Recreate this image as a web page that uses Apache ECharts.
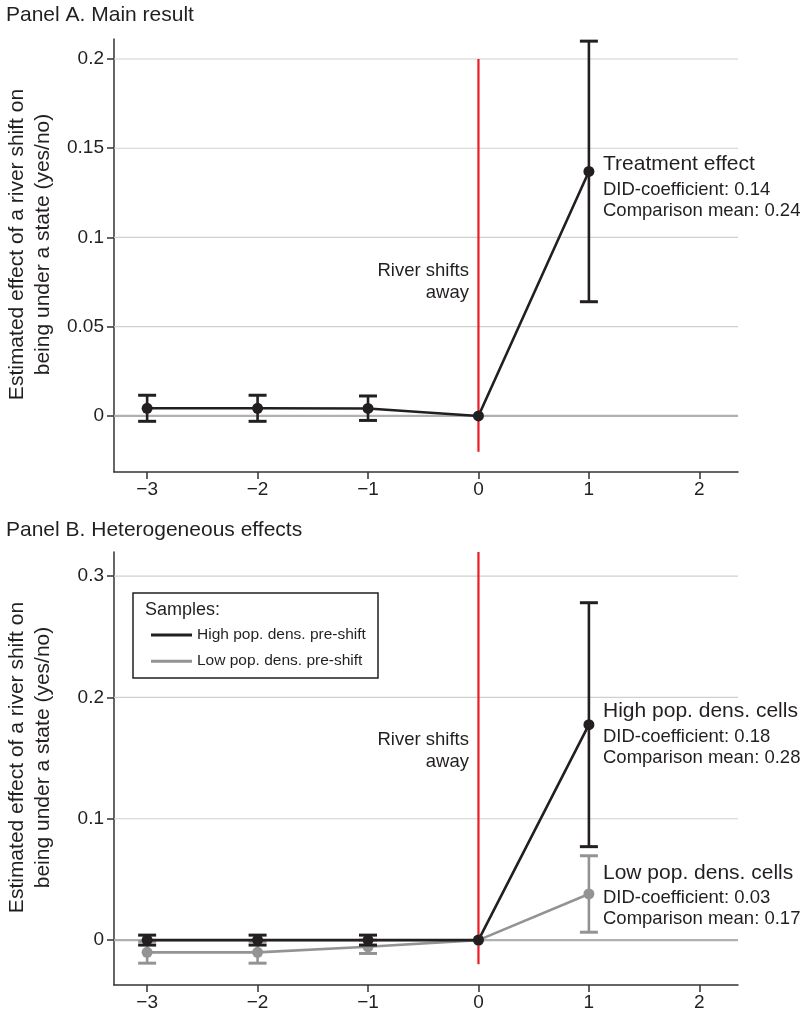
<!DOCTYPE html>
<html>
<head>
<meta charset="utf-8">
<script src="https://cdn.jsdelivr.net/npm/echarts@6/dist/echarts.min.js"></script>
<style>
html,body{margin:0;padding:0;background:#fff;}
#chart{width:801px;height:1013px;}
</style>
</head>
<body>
<div id="chart"></div>
<script>
// ---- data ----
const xTicks = [-3, -2, -1, 0, 1, 2];
const yTicksA = [0, 0.05, 0.1, 0.15, 0.2];
const yTicksB = [0, 0.1, 0.2, 0.3];
const periods = [-3, -2, -1, 0, 1];

// Panel A
const estA = [0.0043, 0.0043, 0.0042, 0, 0.137];
const loA  = [-0.003, -0.003, -0.0025, 0, 0.064];
const hiA  = [0.0116, 0.0116, 0.0112, 0, 0.210];

// Panel B
const estHigh = [0, 0, 0, 0, 0.1775];
const loHigh  = [-0.0041, -0.0041, -0.0041, 0, 0.077];
const hiHigh  = [0.0041, 0.0041, 0.0041, 0, 0.278];
const estLow  = [-0.0101, -0.0101, -0.0055, 0, 0.038];
const loLow   = [-0.019, -0.019, -0.011, 0, 0.0065];
const hiLow   = [-0.001, -0.001, 0, 0, 0.0695];

const shiftPeriod = 0;
const shiftLineA = [-0.02, 0.2];
const shiftLineB = [-0.02, 0.3198];

const seriesNames = ['High pop. dens. pre-shift', 'Low pop. dens. pre-shift'];

// ---- styling ----
const FONT = "'Liberation Sans', Arial, Helvetica, sans-serif";
const INK = '#231f20';
const GRAY = '#939393';
const RED = '#ec1c24';

const chart = echarts.init(document.getElementById('chart'), null, {renderer: 'canvas'});

function fmtX(v) { return v < 0 ? '\u2212' + Math.abs(v) : String(v); }

function xAxisCfg(gi) {
  return {
    type: 'value', gridIndex: gi, min: -3.3, max: 2.35,
    axisLine: {show: true, onZero: false, lineStyle: {color: '#333', width: 1.5}},
    axisTick: {show: true, length: 7, customValues: xTicks, lineStyle: {color: '#333', width: 1.5}},
    axisLabel: {customValues: xTicks, formatter: fmtX, fontSize: 19, fontFamily: FONT, color: INK, margin: 8},
    splitLine: {show: false}
  };
}
function yAxisCfg(gi, min, max, ticks) {
  return {
    type: 'value', gridIndex: gi, min: min, max: max,
    name: 'Estimated effect of a river shift on\nbeing under a state (yes/no)',
    nameLocation: 'middle', nameRotate: 90, nameGap: 58,
    nameTextStyle: {fontSize: 21, lineHeight: 26, fontFamily: FONT, color: INK, align: 'center', padding: [0, 0, 0, 22]},
    axisLine: {show: true, onZero: false, lineStyle: {color: '#333', width: 1.5}},
    axisTick: {show: true, length: 7, customValues: ticks, lineStyle: {color: '#333', width: 1.5}},
    axisLabel: {customValues: ticks, formatter: v => String(v), fontSize: 19, fontFamily: FONT, color: INK, margin: 10},
    splitLine: {show: false}
  };
}

function gridLineSeries(gi, ticks) {
  return {
    type: 'custom', xAxisIndex: gi, yAxisIndex: gi, z: 1, silent: true,
    data: ticks.map(v => [v]),
    encode: {y: 0},
    renderItem: function (params, api) {
      const cs = params.coordSys;
      const v = api.value(0);
      const y = api.coord([0, v])[1];
      const zero = v === 0;
      return {
        type: 'line',
        shape: {x1: cs.x, y1: y, x2: cs.x + cs.width, y2: y},
        style: {stroke: zero ? '#b0b0b0' : '#d0d0d0', lineWidth: zero ? 2.2 : 1.2}
      };
    }
  };
}

function errorBarSeries(gi, lo, hi, color, z) {
  const data = [];
  periods.forEach((p, i) => { if (lo[i] !== hi[i]) data.push([p, lo[i], hi[i]]); });
  return {
    type: 'custom', xAxisIndex: gi, yAxisIndex: gi, z: z, silent: true,
    data: data,
    encode: {x: 0, y: [1, 2]},
    renderItem: function (params, api) {
      const x = api.value(0);
      const a = api.coord([x, api.value(2)]);
      const b = api.coord([x, api.value(1)]);
      const w = 9;
      const st = {stroke: color, lineWidth: 2.6};
      return {
        type: 'group',
        children: [
          {type: 'line', shape: {x1: a[0], y1: a[1], x2: b[0], y2: b[1]}, style: st},
          {type: 'line', shape: {x1: a[0] - w, y1: a[1], x2: a[0] + w, y2: a[1]}, style: {stroke: color, lineWidth: 3}},
          {type: 'line', shape: {x1: b[0] - w, y1: b[1], x2: b[0] + w, y2: b[1]}, style: {stroke: color, lineWidth: 3}}
        ]
      };
    }
  };
}

function estSeries(gi, name, est, color, z) {
  return {
    type: 'line', name: name, xAxisIndex: gi, yAxisIndex: gi, z: z,
    data: periods.map((p, i) => [p, est[i]]),
    symbol: 'circle', symbolSize: 11, showSymbol: true,
    lineStyle: {color: color, width: 2.6},
    itemStyle: {color: color, borderWidth: 0},
    emphasis: {disabled: true}, silent: true
  };
}

function shiftSeries(gi, range) {
  return {
    type: 'line', xAxisIndex: gi, yAxisIndex: gi, z: 2, silent: true,
    data: range.map(v => [shiftPeriod, v]),
    symbol: 'none', lineStyle: {color: RED, width: 2.2}
  };
}

function txt(x, y, text, size, align) {
  return {
    type: 'text', x: x, y: y, silent: true,
    style: {text: text, fontSize: size, fontFamily: FONT, fill: INK, align: align || 'left', verticalAlign: 'middle', lineHeight: 22}
  };
}

const option = {
  animation: false,
  backgroundColor: '#fff',
  grid: [
    {left: 114, top: 39, width: 624, height: 433, outerBoundsMode: 'none', containLabel: false},
    {left: 114, top: 552, width: 624, height: 433, outerBoundsMode: 'none', containLabel: false}
  ],
  xAxis: [xAxisCfg(0), xAxisCfg(1)],
  yAxis: [yAxisCfg(0, -0.0314, 0.2112, yTicksA), yAxisCfg(1, -0.037, 0.3198, yTicksB)],
  legend: {
    data: seriesNames,
    orient: 'vertical', left: 146, top: 622, z: 60,
    icon: 'rect', itemWidth: 41, itemHeight: 3, itemGap: 10.2,
    textStyle: {fontSize: 15.5, fontFamily: FONT, color: INK},
    selectedMode: false
  },
  graphic: [
    txt(6, 15.5, 'Panel A. Main result', 21),
    txt(6, 530, 'Panel B. Heterogeneous effects', 21),
    txt(469, 271, 'River shifts', 18.5, 'right'),
    txt(469, 293, 'away', 18.5, 'right'),
    txt(469, 740, 'River shifts', 18.5, 'right'),
    txt(469, 762, 'away', 18.5, 'right'),
    txt(603, 164, 'Treatment effect', 21),
    txt(603, 189.5, 'DID-coefficient: 0.14', 18.5),
    txt(603, 210.5, 'Comparison mean: 0.24', 18.5),
    txt(603, 711, 'High pop. dens. cells', 21),
    txt(603, 736.5, 'DID-coefficient: 0.18', 18.5),
    txt(603, 758, 'Comparison mean: 0.28', 18.5),
    txt(603, 873, 'Low pop. dens. cells', 21),
    txt(603, 898, 'DID-coefficient: 0.03', 18.5),
    txt(603, 919, 'Comparison mean: 0.17', 18.5),
    {type: 'rect', shape: {x: 133, y: 593, width: 245, height: 85}, style: {fill: 'transparent', stroke: INK, lineWidth: 1.5}, z: 0, silent: true},
    {type: 'text', x: 145, y: 610, silent: true, style: {text: 'Samples:', fontSize: 18, fontFamily: FONT, fill: INK, verticalAlign: 'middle'}}
  ],
  series: [
    gridLineSeries(0, yTicksA),
    shiftSeries(0, shiftLineA),
    errorBarSeries(0, loA, hiA, INK, 3),
    estSeries(0, 'Treatment', estA, INK, 4),

    gridLineSeries(1, yTicksB),
    shiftSeries(1, shiftLineB),
    errorBarSeries(1, loLow, hiLow, GRAY, 3),
    estSeries(1, seriesNames[1], estLow, GRAY, 4),
    errorBarSeries(1, loHigh, hiHigh, INK, 5),
    estSeries(1, seriesNames[0], estHigh, INK, 6)
  ]
};
chart.setOption(option);
</script>
</body>
</html>
